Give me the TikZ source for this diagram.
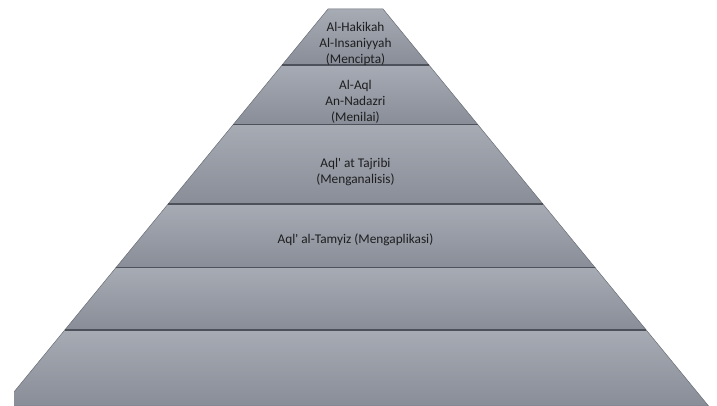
\documentclass[tikz,border=0pt]{standalone}
\usepackage{fontspec}
\setmainfont{Carlito}

\definecolor{layertop}{RGB}{167,171,180}
\definecolor{layerbot}{RGB}{136,141,151}
\definecolor{layerline}{RGB}{76,81,90}
\definecolor{layeredge}{RGB}{105,109,117}
\definecolor{layertext}{RGB}{30,30,32}

\begin{document}
\begin{tikzpicture}[
x=1pt,y=-1pt,
layer/.style={
  top color=layertop,
  bottom color=layerbot,
  draw=layeredge,
  line width=0.5pt
  },
divide/.style={
  draw=layerline,
  line width=1.3pt
  },
txt/.style={
  align=center,
  text=layertext,
  font=\fontsize{13.3}{16.3}\selectfont,
  inner sep=0pt
  }
]
\useasboundingbox (0,0) rectangle (717,406);
\clip (14,0) rectangle (717,406);

% bands, top to bottom
\foreach \ya/\yb in {9/65,65/124.5,124.5/204,204/267.7,267.7/330,330/406}
{
  \pgfmathsetmacro\wa{27.5+0.82*(\ya-9)}
  \pgfmathsetmacro\wb{27.5+0.82*(\yb-9)}
  \draw[layer] (355.5-\wa,\ya) -- (355.5+\wa,\ya) -- (355.5+\wb,\yb) -- (355.5-\wb,\yb) -- cycle;
}

\foreach \y in {65,124.5,204,267.7,330}
{
  \pgfmathsetmacro\w{27.5+0.82*(\y-9)}
  \draw[divide] (355.5-\w,\y) -- (355.5+\w,\y);
}

\node[txt] (hakikah) at (355.5,44) {Al-Hakikah\\Al-Insaniyyah\\(Mencipta)};
\node[txt] (nadazri) at (355.5,102) {Al-Aql\\An-Nadazri\\(Menilai)};
\node[txt] (tajribi) at (355.5,172) {Aql\textquotesingle{} at Tajribi\\(Menganalisis)};
\node[txt] (tamyiz) at (355.5,240) {Aql\textquotesingle{} al-Tamyiz (Mengaplikasi)};

\end{tikzpicture}
\end{document}
